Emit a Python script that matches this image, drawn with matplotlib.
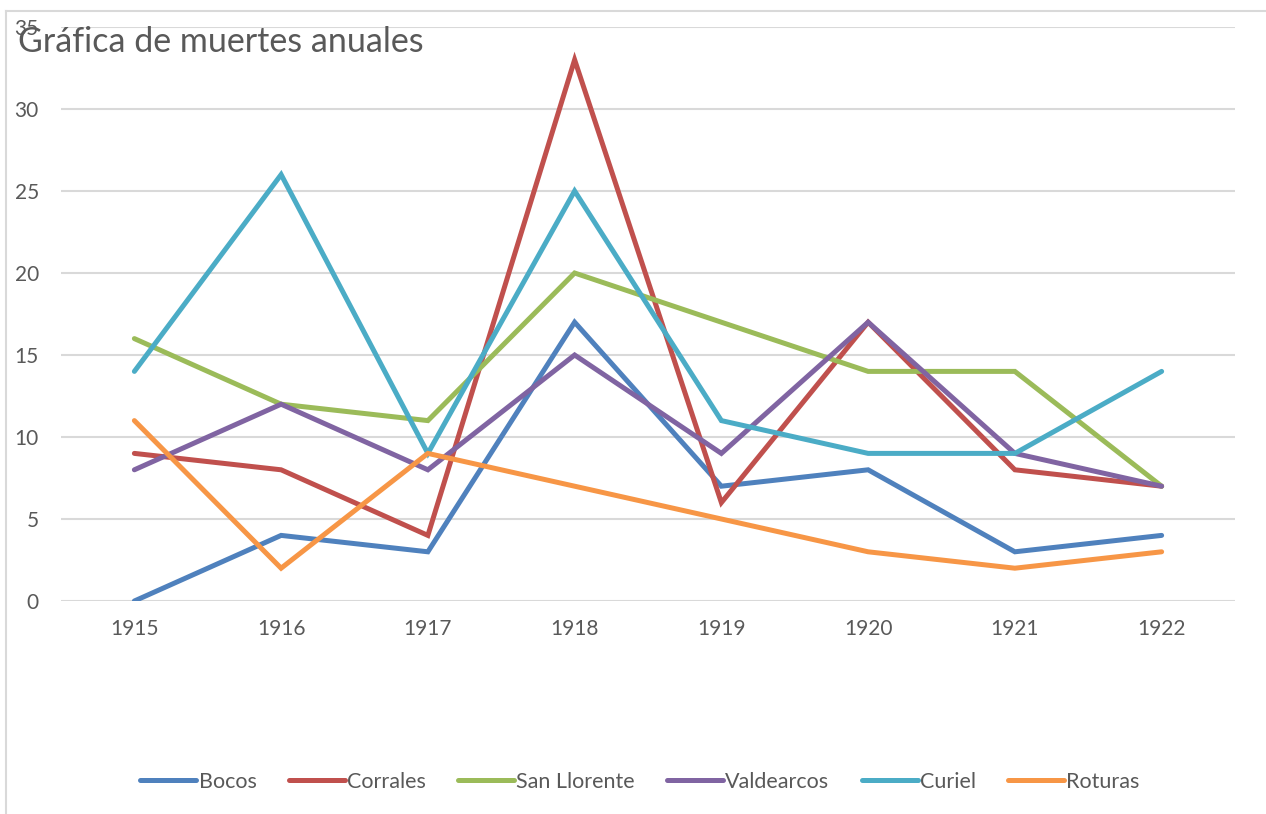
import matplotlib
matplotlib.use("Agg")
from matplotlib import pyplot as plt
from matplotlib.lines import Line2D

# data
years = ["1915", "1916", "1917", "1918", "1919", "1920", "1921", "1922"]
bocos = [0, 4, 3, 17, 7, 8, 3, 4]
corrales = [9, 8, 4, 33, 6, 17, 8, 7]
san_llorente = [16, 12, 11, 20, 17, 14, 14, 7]
valdearcos = [8, 12, 8, 15, 9, 17, 9, 7]
curiel = [14, 26, 9, 25, 11, 9, 9, 14]
roturas = [11, 2, 9, 7, 5, 3, 2, 3]

series = [("Bocos", bocos, "#4F81BD"),
          ("Corrales", corrales, "#C0504D"),
          ("San Llorente", san_llorente, "#9BBB59"),
          ("Valdearcos", valdearcos, "#8064A2"),
          ("Curiel", curiel, "#4BACC6"),
          ("Roturas", roturas, "#F79646")]

plt.rcParams['font.family'] = ['Lato', 'DejaVu Sans']
txt = "#595959"
grid = "#D9D9D9"

W, H = 1266, 814
fig = plt.figure(figsize=[W / 100, H / 100], dpi=100)
ax = fig.add_axes([61 / W, (H - 601) / H, (1235 - 61) / W, (601 - 27) / H])

x = list(range(len(years)))
for name, vals, col in series:
    ax.plot(x, vals, color=col, linewidth=3.6, label=name, solid_capstyle="round", solid_joinstyle="miter")

ax.set_xlim(-0.5, len(years) - 0.5)
ax.set_ylim(0, 35)
ax.set_yticks(range(0, 36, 5))
ax.set_xticks(x)
ax.set_xticklabels(years)
ax.yaxis.grid(True, color=grid, linewidth=1.5)
ax.set_axisbelow(True)
for s in ax.spines.values():
    s.set_visible(False)
ax.tick_params(axis="both", length=0, colors=txt, labelsize=15)
ax.tick_params(axis="y", pad=16)
ax.tick_params(axis="x", pad=13)

fig.text(18 / W, 1 - 42 / H, "Gráfica de muertes anuales", fontsize=24.5, color=txt, va="center", ha="left")

leg = fig.legend(loc="center", bbox_to_anchor=(640 / W, 1 - 782 / H), ncol=6, frameon=False,
                 fontsize=15.5, handlelength=2.6, columnspacing=1.5, handletextpad=0.1)
for t in leg.get_texts():
    t.set_color(txt)

# chart border (left and top visible)
fig.add_artist(Line2D([6 / W, 6 / W], [0, 1 - 11 / H], color=grid, linewidth=1.5, transform=fig.transFigure))
fig.add_artist(Line2D([6 / W, 1], [1 - 11 / H, 1 - 11 / H], color=grid, linewidth=1.5, transform=fig.transFigure))

plt.savefig("out.png", dpi=100)
